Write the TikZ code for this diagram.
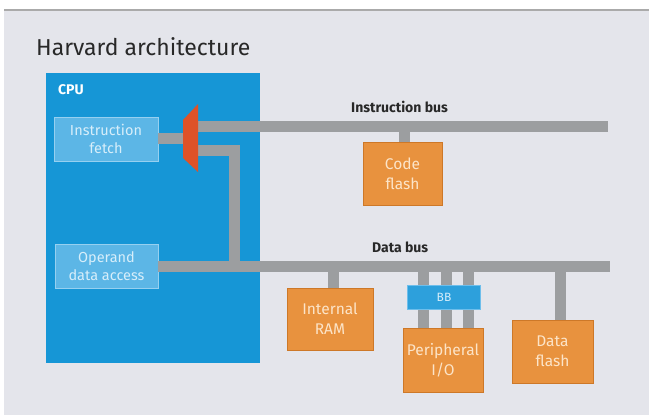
\documentclass[tikz,border=0pt]{standalone}
\usepackage{fontspec}
\setmainfont{Fira Sans}
\definecolor{bgc}{RGB}{228,229,235}
\definecolor{cpublue}{RGB}{22,150,214}
\definecolor{inblue}{RGB}{92,182,230}
\definecolor{inborder}{RGB}{150,208,240}
\definecolor{intext}{RGB}{215,238,250}
\definecolor{orng}{RGB}{232,146,62}
\definecolor{orngdk}{RGB}{205,120,40}
\definecolor{orngtext}{RGB}{252,228,200}
\definecolor{bbblue}{RGB}{45,160,220}
\definecolor{bbborder}{RGB}{110,190,235}
\definecolor{busgray}{RGB}{156,158,160}
\definecolor{muxred}{RGB}{222,82,40}
\definecolor{txtdark}{RGB}{40,40,40}
\definecolor{topline}{RGB}{170,170,170}
\tikzset{
  inbox/.style={draw=inborder, line width=0.8pt, fill=inblue, text=intext, align=center,
    font=\fontsize{14.5}{18}\selectfont, inner sep=0pt},
  membox/.style={draw=orngdk, line width=0.6pt, fill=orng, text=orngtext, align=center,
    font=\fontsize{15.5}{20}\selectfont, inner sep=0pt},
  bus/.style={draw=busgray, line width=11pt},
  stub/.style={draw=busgray, line width=11pt},
  buslabel/.style={text=txtdark, font=\bfseries\fontsize{14}{16}\selectfont, inner sep=0pt},
}
\begin{document}
\begin{tikzpicture}[x=1pt,y=-1pt]
\useasboundingbox (0,0) rectangle (649,415);
\fill[white] (0,0) rectangle (649,415);
\fill[bgc] (4,11) rectangle (649,415);
\draw[topline, line width=2pt] (4,10) -- (649,10);
\node[anchor=west, text=txtdark, font=\fontsize{23}{27}\selectfont, inner sep=0pt] (title) at (36,47) {Harvard architecture};
% CPU
\node[fill=cpublue, minimum width=214pt, minimum height=290pt, inner sep=0pt] (cpu) at (153,218) {};
\node[anchor=north west, text=white, font=\bfseries\fontsize{14}{16}\selectfont, inner sep=0pt] (cpulbl) at (58,84) {CPU};
\node[inbox, minimum width=104pt, minimum height=44pt] (ifetch) at (106,139) {Instruction\\fetch};
\node[inbox, minimum width=103pt, minimum height=44pt] (opnd) at (106.5,266) {Operand\\data access};
% mux coordinates
\coordinate (muxL) at (183,138);
\coordinate (muxR1) at (198,126);
\coordinate (muxR2) at (198,150);
\coordinate (ibusE) at (608,126);
\coordinate (bend) at (234,150);
\coordinate (dbusE) at (610,266);
% memory boxes
\node[membox, minimum width=79pt, minimum height=63pt] (code) at (402.5,173.5) {Code\\flash};
\node[membox, minimum width=86pt, minimum height=62pt] (ram) at (330,319) {Internal\\RAM};
\node[membox, minimum width=80pt, minimum height=64pt] (periph) at (443,360) {Peripheral\\I/O};
\node[membox, minimum width=81pt, minimum height=63pt] (dflash) at (552.5,351.5) {Data\\flash};
% buses
\draw[bus] (ifetch.east |- muxL) -- (muxL);
\draw[bus] (muxR1) -- (ibusE);
\draw[bus] (muxR2) -- (bend) -- (bend |- opnd.east);
\draw[bus] (opnd.east) -- (dbusE);
\draw[stub] (404,126) -- (code.north -| 404,0);
\draw[stub] (333,266) -- (ram.north -| 333,0);
\draw[stub] (560,266) -- (dflash.north -| 560,0);
\foreach \xx in {423,446,468} {
  \draw[stub] (\xx,266) -- (\xx,328);
}
\node[fill=bbblue, draw=bbborder, line width=0.6pt, minimum width=73pt, minimum height=24pt, inner sep=0pt, text=intext, font=\fontsize{12}{14}\selectfont] (bb) at (444,297.5) {BB};
% mux
\fill[muxred] (183,120) -- (198,104) -- (198,172) -- (183,158) -- cycle;
\node[buslabel, anchor=south west] (iblbl) at (351,113) {Instruction bus};
\node[buslabel, anchor=south west] (dblbl) at (372,253) {Data bus};
\end{tikzpicture}
\end{document}
